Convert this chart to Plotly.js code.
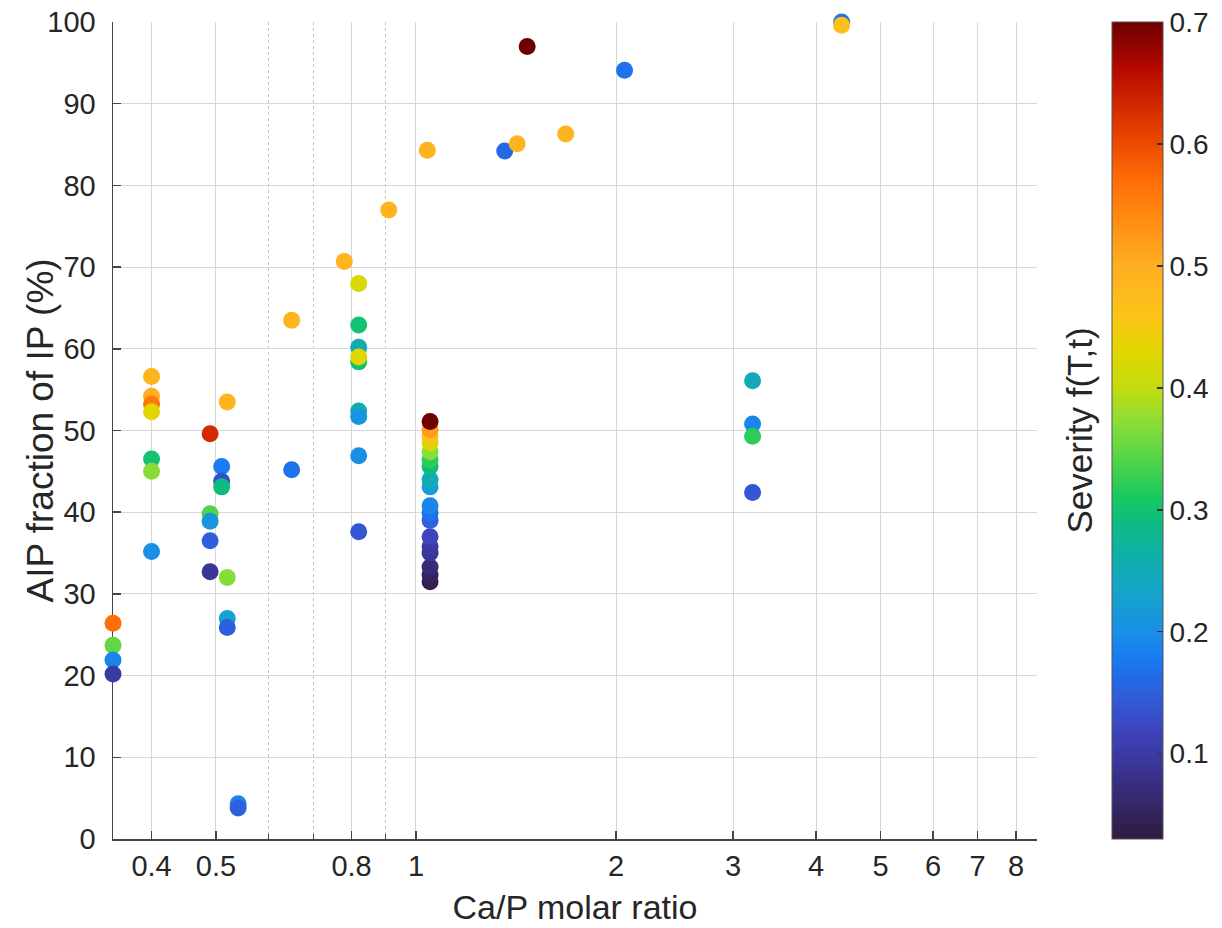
<!DOCTYPE html>
<html>
<head>
<meta charset="utf-8">
<script src="https://cdn.plot.ly/plotly-3.0.1.min.js"></script>
<style>html,body{margin:0;padding:0;background:#fff;}#chart{width:1222px;height:928px;}</style>
</head>
<body>
<div id="chart"></div>
<script>
// Ca/P molar ratio (x, log scale)
const caP = [
  0.35, 0.35, 0.35, 0.35,
  0.40, 0.40, 0.40, 0.40, 0.40, 0.40, 0.40,
  0.49, 0.49, 0.49, 0.49, 0.49,
  0.51, 0.51, 0.51,
  0.52, 0.52, 0.52, 0.52,
  0.54, 0.54,
  0.65, 0.65,
  0.78,
  0.82, 0.82, 0.82, 0.82, 0.82, 0.82, 0.82, 0.82, 0.82,
  0.91,
  1.04,
  1.05, 1.05, 1.05, 1.05, 1.05, 1.05, 1.05, 1.05, 1.05,
  1.05, 1.05, 1.05, 1.05, 1.05, 1.05, 1.05, 1.05, 1.05,
  1.36, 1.42, 1.47, 1.68, 2.06,
  3.21, 3.21, 3.21, 3.21,
  4.37, 4.37,
  8.61, 8.61
];
// AIP fraction of IP (%)
const aip = [
  26.4, 23.7, 21.9, 20.2,
  56.6, 54.2, 53.2, 52.3, 46.5, 45.0, 35.2,
  49.6, 39.8, 38.9, 36.5, 32.7,
  45.6, 43.8, 43.1,
  53.5, 32.0, 27.0, 25.9,
  4.3, 3.8,
  63.5, 45.2,
  70.7,
  68.0, 62.9, 60.2, 58.4, 59.0, 52.4, 51.7, 46.9, 37.6,
  77.0,
  84.3,
  31.5, 32.3, 33.3, 35.0, 35.8, 37.0, 39.0, 39.9, 40.8,
  43.1, 44.0, 45.6, 46.4, 47.4, 48.5, 49.3, 50.1, 51.1,
  84.2, 85.1, 97.0, 86.3, 94.1,
  56.1, 50.8, 49.3, 42.4,
  100.0, 99.6,
  93.7, 87.8
];
// Severity f(T,t)
const severity = [
  0.57, 0.35, 0.19, 0.10,
  0.49, 0.50, 0.56, 0.43, 0.30, 0.37, 0.20,
  0.63, 0.34, 0.21, 0.15, 0.09,
  0.18, 0.13, 0.29,
  0.49, 0.37, 0.23, 0.15,
  0.19, 0.15,
  0.49, 0.17,
  0.49,
  0.42, 0.30, 0.25, 0.30, 0.43, 0.26, 0.21, 0.20, 0.14,
  0.49,
  0.49,
  0.04, 0.05, 0.07, 0.09, 0.10, 0.12, 0.15, 0.17, 0.19,
  0.22, 0.25, 0.29, 0.32, 0.37, 0.42, 0.47, 0.52, 0.70,
  0.16, 0.49, 0.70, 0.49, 0.17,
  0.25, 0.19, 0.32, 0.14,
  0.17, 0.47,
  0.31, 0.15
];
const xTicks = [0.4, 0.5, 0.8, 1, 2, 3, 4, 5, 6, 7, 8];
const xTickText = ['0.4', '0.5', '0.8', '1', '2', '3', '4', '5', '6', '7', '8'];
const xMinorTicks = [0.6, 0.7, 0.9];
const cbTicks = [0.1, 0.2, 0.3, 0.4, 0.5, 0.6, 0.7];

const cmin = 0.03, cmax = 0.7;
const cmapStops = [
  [0.03, '#2f1a40'], [0.06, '#36286a'], [0.09, '#3b3596'], [0.12, '#3c45bd'],
  [0.15, '#2f5fdc'], [0.16, '#2468e6'], [0.18, '#1a7cf0'], [0.20, '#1a8fe6'],
  [0.23, '#16a2cc'], [0.26, '#10aeaa'], [0.29, '#0ebc80'], [0.31, '#18c860'],
  [0.34, '#50d448'], [0.37, '#88dc38'], [0.40, '#c4dc10'], [0.43, '#e2d600'],
  [0.46, '#fcc418'], [0.50, '#ffae22'], [0.54, '#ff8a12'], [0.57, '#ff6e08'],
  [0.60, '#ec4a02'], [0.63, '#d42a00'], [0.66, '#b80a00'], [0.70, '#6e0000']
];
const colorscale = cmapStops.map(s => [(s[0] - cmin) / (cmax - cmin), s[1]]);

const W = 1222, H = 928;
const L = 113, R = 185, T = 22, B = 89;
const pw = W - L - R;
const ph = H - T - B;
const font = 'Liberation Sans, Arial, Helvetica, sans-serif';
const txt = '#262626';

const trace = {
  type: 'scatter', mode: 'markers',
  x: caP, y: aip,
  cliponaxis: false,
  hoverinfo: 'x+y',
  marker: {
    size: 17,
    color: severity,
    cmin: cmin, cmax: cmax,
    colorscale: colorscale,
    line: {width: 0},
    opacity: 1,
    colorbar: {
      x: (1112 - L) / pw, xanchor: 'left', xref: 'paper',
      y: 0.5, yanchor: 'middle', len: 1, lenmode: 'fraction',
      thickness: 51, thicknessmode: 'pixels',
      xpad: 0, ypad: 0,
      outlinecolor: '#555', outlinewidth: 1,
      tickmode: 'array', tickvals: cbTicks,
      ticks: 'inside', ticklen: 6, tickcolor: '#333', tickwidth: 1.5,
      tickfont: {family: font, size: 28, color: txt},
      ticklabelposition: 'outside'
    }
  }
};

const layout = {
  width: W, height: H,
  margin: {l: L, r: R, t: T, b: B, autoexpand: false},
  paper_bgcolor: '#fff', plot_bgcolor: '#fff',
  showlegend: false,
  font: {family: font, color: txt},
  xaxis: {
    type: 'log',
    range: [Math.log10(0.35), Math.log10(8.6)],
    tickmode: 'array', tickvals: xTicks, ticktext: xTickText,
    ticks: 'inside', ticklen: 8, tickwidth: 1.5, tickcolor: '#444',
    showgrid: true, gridcolor: '#d8d8d8', gridwidth: 1,
    minor: {tickmode: 'array', tickvals: xMinorTicks, ticks: 'inside', ticklen: 5,
            tickcolor: '#444', tickwidth: 1, showgrid: true, gridcolor: '#c4c4c4', griddash: 'dot', gridwidth: 1},
    showline: true, linecolor: '#444', linewidth: 1.5, mirror: false,
    zeroline: false, layer: 'below traces',
    tickfont: {family: font, size: 29, color: txt},
    ticklabelstandoff: 1,
    title: {text: 'Ca/P molar ratio', font: {family: font, size: 34, color: txt}, standoff: 14}
  },
  yaxis: {
    range: [0, 100], tickmode: 'linear', tick0: 0, dtick: 10,
    ticks: 'inside', ticklen: 8, tickwidth: 1.5, tickcolor: '#444',
    showgrid: true, gridcolor: '#d8d8d8', gridwidth: 1,
    showline: true, linecolor: '#444', linewidth: 1.5, mirror: false,
    zeroline: false, layer: 'below traces',
    tickfont: {family: font, size: 29, color: txt},
    ticklabelstandoff: 10,
    title: {text: ''}
  },
  annotations: [
    {text: 'AIP fraction of IP (%)', xref: 'paper', yref: 'paper',
     x: (40 - L) / pw, y: 0.5, xanchor: 'center', yanchor: 'middle',
     textangle: -90, showarrow: false, font: {family: font, size: 37, color: txt}},
    {text: 'Severity f(T,t)', xref: 'paper', yref: 'paper',
     x: (1079 - L) / pw, y: 0.5, xanchor: 'center', yanchor: 'middle',
     textangle: -90, showarrow: false, font: {family: font, size: 35, color: txt}}
  ]
};

Plotly.newPlot('chart', [trace], layout, {displayModeBar: false, staticPlot: true});
</script>
</body>
</html>
